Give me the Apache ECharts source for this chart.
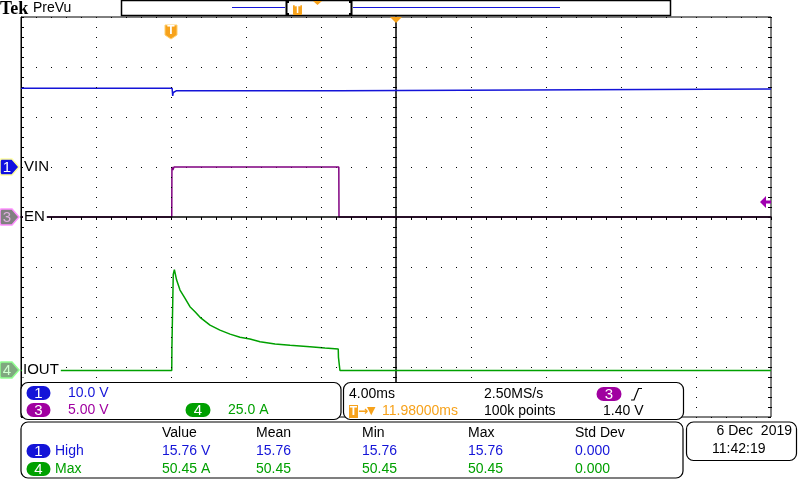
<!DOCTYPE html>
<html><head><meta charset="utf-8">
<script src="https://cdn.jsdelivr.net/npm/echarts@6/dist/echarts.min.js"></script>
<style>html,body{margin:0;padding:0;background:#fff}#c{width:800px;height:480px}</style>
</head><body><div id="c"></div>
<script>
// Time in ms relative to the trigger point (4.00 ms/div, 10 divisions)
const vinTime  = [-8, 0.06, 0.09, 0.12, 0.16, 0.3, 8.98, 8.99, 32];
const vinVolts = [15.76, 15.76, 14.2, 14.9, 15.2, 15.26, 15.26, 15.6, 15.6];
const enTime   = [-8, 0.04, 0.05, 0.1, 0.16, 8.95, 8.96, 32];
const enVolts  = [0, 0, 5.0, 4.7, 5.0, 5.0, 0, 0];
const ioutTime = [-8, 0.04, 0.05, 0.11, 0.12, 0.18, 0.30, 0.48, 0.75, 1.01, 1.28, 1.55, 2.08, 2.61, 3.15, 3.68, 4.21, 4.75, 5.55, 6.35, 7.41, 8.21, 8.92, 8.93, 9.0, 9.01, 32];
const ioutAmps = [0, 0, 12, 12, 48, 50.45, 45.2, 40.2, 36.1, 31.9, 29.4, 26.6, 22.7, 20.2, 18.2, 16.6, 15.7, 14.4, 13.2, 12.6, 11.9, 11.2, 10.7, 6.7, 6.7, 0, 0];
// channel settings: units per division and ground offset in divisions
const ch1Scale = 10, ch1Offset = 1;
const ch3Scale = 5,  ch3Offset = 0;
const ch4Scale = 25, ch4Offset = -3.07;
const measHeaders = ['Value', 'Mean', 'Min', 'Max', 'Std Dev'];
const measHigh = ['15.76 V', '15.76', '15.76', '15.76', '0.000'];
const measMax  = ['50.45 A', '50.45', '50.45', '50.45', '0.000'];

const BLUE = '#1414d8', PURPLE = '#800080', GREEN = '#00a000', ORANGE = '#f7a21b';
const FONT = '"Liberation Sans", Arial, sans-serif';

function toDiv(t, v, s, o) { return t.map((x, i) => [x, v[i] / s + o]); }

const chart = echarts.init(document.getElementById('c'), null, {renderer: 'canvas'});

function txt(x, y, text, color, size, extra) {
  return {type: 'text', z: 20, style: Object.assign({x: x, y: y, text: text, fill: color || '#000',
    font: (size || 14) + 'px ' + FONT, verticalAlign: 'middle'}, extra || {})};
}
function pill(cx, cy, w, label, color) {
  return [{type: 'rect', z: 20, shape: {x: cx - w / 2, y: cy - 7, width: w, height: 14, r: 7}, style: {fill: color}},
          txt(cx, cy + 0.5, label, '#fff', 15, {align: 'center'})];
}
function panel(x, y, w, h) {
  return {type: 'rect', z: 15, shape: {x: x, y: y, width: w, height: h, r: 7}, style: {fill: '#fff', stroke: '#000', lineWidth: 1.2}};
}
function marker(y, fill, stroke, label, lc) {
  return [{type: 'polygon', z: 20, shape: {points: [[1, y - 8], [12, y - 8], [19, y], [12, y + 8], [1, y + 8], [0, y + 6], [0, y - 6]]},
           style: {fill: fill, stroke: stroke, lineWidth: 1.5}},
          txt(7, y + 0.5, label, lc, 15, {align: 'center'})];
}
const labelBg = {backgroundColor: '#fff', padding: [0, 2, 0, 1]};

const graphics = [].concat(
  [txt(0, 9, 'Tek', '#000', 17, {font: 'bold 18px "Liberation Serif", serif'}),
   txt(33, 8.5, 'PreVu', '#000', 14),
   {type: 'rect', z: 20, shape: {x: 121.5, y: 0.5, width: 549, height: 15}, style: {fill: '#fff', stroke: '#000', lineWidth: 1.5}},
   {type: 'line', z: 21, shape: {x1: 232, y1: 7.5, x2: 285, y2: 7.5}, style: {stroke: BLUE, lineWidth: 1}},
   {type: 'line', z: 21, shape: {x1: 353, y1: 7.5, x2: 560, y2: 7.5}, style: {stroke: BLUE, lineWidth: 1}},
   {type: 'polyline', z: 21, shape: {points: [[289, 2], [286.5, 2], [286.5, 14], [289, 14]]}, style: {stroke: '#000', lineWidth: 2, fill: null}},
   {type: 'polyline', z: 21, shape: {points: [[349, 2], [351.5, 2], [351.5, 14], [349, 14]]}, style: {stroke: '#000', lineWidth: 2, fill: null}},
   {type: 'rect', z: 21, shape: {x: 293, y: 5, width: 9, height: 10, r: 1}, style: {fill: ORANGE}},
   {type: 'text', z: 22, style: {x: 297.5, y: 10.5, text: 'T', fill: '#fff', font: 'bold 10px ' + FONT, align: 'center', verticalAlign: 'middle'}},
   {type: 'polygon', z: 21, shape: {points: [[313, 1], [322, 1], [317.5, 5]]}, style: {fill: ORANGE}},
   {type: 'polygon', z: 20, shape: {points: [[165, 25], [177, 25], [177, 35], [171, 39], [165, 35]]}, style: {fill: ORANGE, stroke: '#ffd070', lineWidth: 1}},
   {type: 'text', z: 21, style: {x: 171, y: 31, text: 'T', fill: '#fff', font: 'bold 12px ' + FONT, align: 'center', verticalAlign: 'middle'}},
   {type: 'polygon', z: 20, shape: {points: [[390, 17], [402, 17], [396, 23]]}, style: {fill: ORANGE}},
   {type: 'polygon', z: 20, shape: {points: [[760, 202], [766, 196], [766, 200.5], [771, 200.5], [771, 203.5], [766, 203.5], [766, 208]]}, style: {fill: '#a000b0'}},
   txt(23, 167, 'VIN', '#000', 15, labelBg), txt(23, 217, 'EN', '#000', 15, labelBg), txt(22, 370, 'IOUT', '#000', 15, labelBg)],
  marker(167, '#1010e0', '#ffffa0', '1', '#fff'),
  marker(217, '#808080', '#ff90ff', '3', '#e0b0e0'),
  marker(370, '#80a880', '#90ff90', '4', '#d0ffd0'),
  [panel(21, 382.5, 320, 37), panel(343.5, 382.5, 340, 37), panel(21, 422, 662, 56), panel(686.5, 422, 110, 38.5)],
  pill(38.5, 393, 24, '1', BLUE), [txt(68, 393.5, '10.0 V', BLUE)],
  pill(38.5, 410, 24, '3', '#a000a0'), [txt(68, 410.5, '5.00 V', '#a000a0')],
  pill(198, 410, 25, '4', GREEN), [txt(228, 410.5, '25.0 A', GREEN)],
  [txt(349, 394, '4.00ms'), txt(484, 394, '2.50MS/s')],
  pill(609, 394, 25, '3', '#a000a0'),
  [{type: 'polyline', z: 20, shape: {points: [[631, 400], [634, 400], [638.5, 388.5], [642, 388.5]]}, style: {stroke: '#000', lineWidth: 1.2, fill: null}},
   {type: 'rect', z: 20, shape: {x: 349, y: 405, width: 9, height: 13}, style: {fill: ORANGE}},
   {type: 'text', z: 21, style: {x: 353.5, y: 411.5, text: 'T', fill: '#fff', font: 'bold 12px ' + FONT, align: 'center', verticalAlign: 'middle'}},
   txt(358, 411.5, '\u2192', ORANGE, 12, {font: 'bold 12px "DejaVu Sans"'}),
   txt(367, 411.5, '\u25BC', ORANGE, 11, {font: '11px "DejaVu Sans"'}),
   txt(382, 411.5, '11.98000ms', ORANGE),
   txt(484, 411.5, '100k points'), txt(603, 411.5, '1.40 V')],
  measHeaders.map((h, i) => txt([162, 256, 362, 468, 575][i], 433.5, h)),
  pill(38.5, 451, 24, '1', BLUE), [txt(55, 451, 'High', BLUE)],
  measHigh.map((h, i) => txt([162, 256, 362, 468, 575][i], 451, h, BLUE)),
  pill(38.5, 469, 24, '4', GREEN), [txt(55, 469, 'Max', GREEN)],
  measMax.map((h, i) => txt([162, 256, 362, 468, 575][i], 469, h, GREEN)),
  [txt(792, 431, '6 Dec  2019', '#000', 14, {align: 'right'}), txt(712, 449.5, '11:42:19')]
);

const dotV = {show: true, lineStyle: {color: '#000', width: 1, type: [1, 9]}};
const dotH = {show: true, lineStyle: {color: '#000', width: 1, type: [1, 14]}};

chart.setOption({
  animation: false,
  backgroundColor: '#fff',
  grid: {left: 21, top: 17, width: 750, height: 400, show: true, borderColor: '#000', borderWidth: 1, backgroundColor: 'transparent'},
  xAxis: [
    {type: 'value', min: -8, max: 32, interval: 4, z: 6, axisLabel: {show: false},
     axisLine: {show: true, onZero: true, lineStyle: {color: '#000', width: 1.5}},
     axisTick: {show: true, length: 3, lineStyle: {color: '#000'}},
     minorTick: {show: true, splitNumber: 5, length: 3, lineStyle: {color: '#000'}},
     splitLine: dotV},
    {type: 'value', min: -20, max: 20, interval: 4, position: 'top', axisLabel: {show: false},
     axisLine: {show: false},
     axisTick: {show: true, inside: true, length: 3, lineStyle: {color: '#000'}},
     minorTick: {show: true, splitNumber: 5, length: 3, lineStyle: {color: '#000'}},
     splitLine: {show: false}}
  ],
  yAxis: [
    {type: 'value', min: -4, max: 4, interval: 1, axisLabel: {show: false},
     axisLine: {show: true, onZero: false, lineStyle: {color: '#000'}},
     axisTick: {show: true, inside: true, length: 3, lineStyle: {color: '#000'}},
     minorTick: {show: true, splitNumber: 5, length: 3, lineStyle: {color: '#000'}},
     splitLine: dotH},
    {type: 'value', min: -4, max: 4, interval: 1, position: 'left', axisLabel: {show: false},
     axisLine: {show: true, onZero: true, onZeroAxisIndex: 1, lineStyle: {color: '#000', width: 1.5}},
     axisTick: {show: true, length: 3, lineStyle: {color: '#000'}},
     minorTick: {show: true, splitNumber: 5, length: 3, lineStyle: {color: '#000'}},
     splitLine: {show: false}},
    {type: 'value', min: -4, max: 4, interval: 1, position: 'right', axisLabel: {show: false},
     axisLine: {show: false, onZero: false},
     axisTick: {show: true, inside: true, length: 3, lineStyle: {color: '#000'}},
     minorTick: {show: true, splitNumber: 5, length: 3, lineStyle: {color: '#000'}},
     splitLine: {show: false}}
  ],
  series: [
    {name: 'VIN', type: 'line', data: toDiv(vinTime, vinVolts, ch1Scale, ch1Offset), showSymbol: false, symbol: 'none',
     lineStyle: {color: BLUE, width: 1.5}, itemStyle: {color: BLUE}, z: 5},
    {name: 'EN', type: 'line', data: toDiv(enTime, enVolts, ch3Scale, ch3Offset), showSymbol: false, symbol: 'none',
     lineStyle: {color: PURPLE, width: 1.5}, itemStyle: {color: PURPLE}, z: 5},
    {name: 'IOUT', type: 'line', data: toDiv(ioutTime, ioutAmps, ch4Scale, ch4Offset), showSymbol: false, symbol: 'none',
     lineStyle: {color: GREEN, width: 1.5}, itemStyle: {color: GREEN}, z: 5}
  ],
  graphic: graphics
});
</script></body></html>
